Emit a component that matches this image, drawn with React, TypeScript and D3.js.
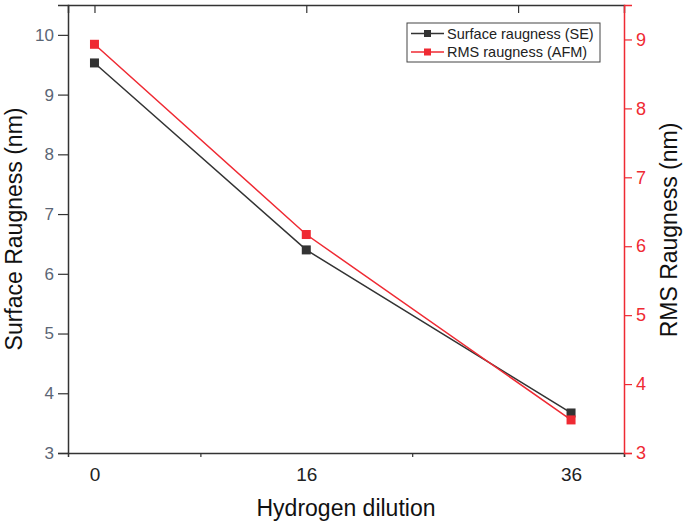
import { useEffect, useRef } from "react";
import * as d3 from "d3";

const dilution = [0, 16, 36];
const surfaceSE = [9.53, 6.4, 3.67];
const rmsAFM = [8.93, 6.17, 3.48];
const xLabels = ["0", "16", "36"];
const seriesNames = ["Surface raugness (SE)", "RMS raugness (AFM)"];

const W = 685;
const H = 526;
const left = 68;
const right = 624;
const top = 5;
const bottom = 453;
const BLACK = "#333333";
const RED = "#ef2a33";
const FONT = "Arial, 'Liberation Sans', sans-serif";

export default function App() {
  const ref = useRef<SVGSVGElement>(null);
  const x = d3.scaleLinear().domain([-2, 40]).range([left, right]);
  const yL = d3.scaleLinear().domain([3, 10.5]).range([bottom, top]);
  const yR = d3.scaleLinear().domain([3, 9.5]).range([bottom, top]);

  useEffect(() => {
    const svg = d3.select(ref.current);
    svg.selectAll("*").remove();

    // left axis
    const gL = svg.append("g").attr("transform", `translate(${left},0)`);
    gL.call(d3.axisLeft(yL).tickValues(d3.range(3, 10.5, 0.5)).tickSize(5).tickFormat(() => ""));
    gL.call(d3.axisLeft(yL).tickValues(d3.range(3, 11, 1)).tickSize(10).tickPadding(4).tickFormat(d3.format("d")));
    gL.selectAll("path").attr("stroke", BLACK).attr("stroke-width", 1.5);
    gL.selectAll("line").attr("stroke", BLACK).attr("stroke-width", 1.2);
    gL.selectAll("text").attr("fill", "#5b6675").attr("font-size", 17).attr("font-family", FONT);

    // right axis
    const gR = svg.append("g").attr("transform", `translate(${right},0)`);
    gR.call(d3.axisRight(yR).tickValues(d3.range(3, 9.5, 0.5)).tickSize(4).tickFormat(() => ""));
    gR.call(d3.axisRight(yR).tickValues(d3.range(3, 10, 1)).tickSize(8).tickPadding(4).tickFormat(d3.format("d")));
    gR.selectAll("path").attr("stroke", RED).attr("stroke-width", 1.5);
    gR.selectAll("line").attr("stroke", RED).attr("stroke-width", 1.2);
    gR.selectAll("text").attr("fill", RED).attr("font-size", 18).attr("font-family", FONT);

    // bottom axis
    const gB = svg.append("g").attr("transform", `translate(0,${bottom})`);
    gB.call(d3.axisBottom(x).tickValues([8, 24, 40]).tickSize(4).tickFormat(() => ""));
    gB.selectAll("path").attr("stroke", BLACK).attr("stroke-width", 1.5);
    gB.selectAll("line").attr("stroke", BLACK).attr("stroke-width", 1.2);
    const gBL = svg.append("g").attr("transform", `translate(0,${bottom})`);
    gBL.call(d3.axisBottom(x).tickValues(dilution).tickSize(0).tickPadding(15).tickFormat((_, i) => xLabels[i]));
    gBL.select(".domain").remove();
    gBL.selectAll("text").attr("fill", "#222").attr("font-size", 19).attr("font-family", FONT);

    // top axis (inward ticks)
    const gT = svg.append("g").attr("transform", `translate(0,${top})`);
    gT.call(d3.axisTop(x).tickValues([8, 24]).tickSize(-5).tickFormat(() => ""));
    gT.call(d3.axisTop(x).tickValues([0, 16, 32]).tickSize(-8).tickFormat(() => ""));
    gT.selectAll("path").attr("stroke", BLACK).attr("stroke-width", 1.5);
    gT.selectAll("line").attr("stroke", BLACK).attr("stroke-width", 1.2);
    // keep right axis red line over top-right corner
    gR.raise();

    const series = [
      { vals: surfaceSE, y: yL, color: BLACK },
      { vals: rmsAFM, y: yR, color: RED },
    ];
    series.forEach((s) => {
      const line = d3
        .line<number>()
        .x((_, i) => x(dilution[i]))
        .y((d) => s.y(d));
      svg.append("path").attr("d", line(s.vals)).attr("fill", "none").attr("stroke", s.color).attr("stroke-width", 1.5);
      svg
        .append("g")
        .selectAll("rect")
        .data(s.vals)
        .join("rect")
        .attr("x", (_, i) => x(dilution[i]) - 4.5)
        .attr("y", (d) => s.y(d) - 4.5)
        .attr("width", 9)
        .attr("height", 9)
        .attr("fill", s.color);
    });

    // legend
    const lg = svg.append("g").attr("transform", "translate(407,23)");
    lg.append("rect").attr("width", 193).attr("height", 39).attr("fill", "white").attr("stroke", "#444").attr("stroke-width", 1);
    series.forEach((s, i) => {
      const cy = 10.5 + i * 18.5;
      lg.append("line").attr("x1", 4).attr("x2", 37).attr("y1", cy).attr("y2", cy).attr("stroke", s.color).attr("stroke-width", 1.5);
      lg.append("rect").attr("x", 17).attr("y", cy - 3.5).attr("width", 7).attr("height", 7).attr("fill", s.color);
      lg.append("text")
        .attr("x", 40)
        .attr("y", cy)
        .attr("dy", "0.35em")
        .attr("font-size", 14.5)
        .attr("font-family", FONT)
        .attr("fill", "#222")
        .text(seriesNames[i]);
    });

    // axis titles
    svg
      .append("text")
      .attr("transform", `translate(22,229) rotate(-90)`)
      .attr("text-anchor", "middle")
      .attr("font-size", 23)
      .attr("font-family", FONT)
      .attr("fill", "#111")
      .text("Surface Raugness (nm)");
    svg
      .append("text")
      .attr("transform", `translate(677,230) rotate(-90)`)
      .attr("text-anchor", "middle")
      .attr("font-size", 23)
      .attr("font-family", FONT)
      .attr("fill", "#111")
      .text("RMS Raugness (nm)");
    svg
      .append("text")
      .attr("x", (left + right) / 2)
      .attr("y", 516)
      .attr("text-anchor", "middle")
      .attr("font-size", 23)
      .attr("font-family", FONT)
      .attr("fill", "#111")
      .text("Hydrogen dilution");
  });

  return <svg ref={ref} width={W} height={H} style={{ position: "absolute", left: 0, top: 0, background: "white" }} />;
}
